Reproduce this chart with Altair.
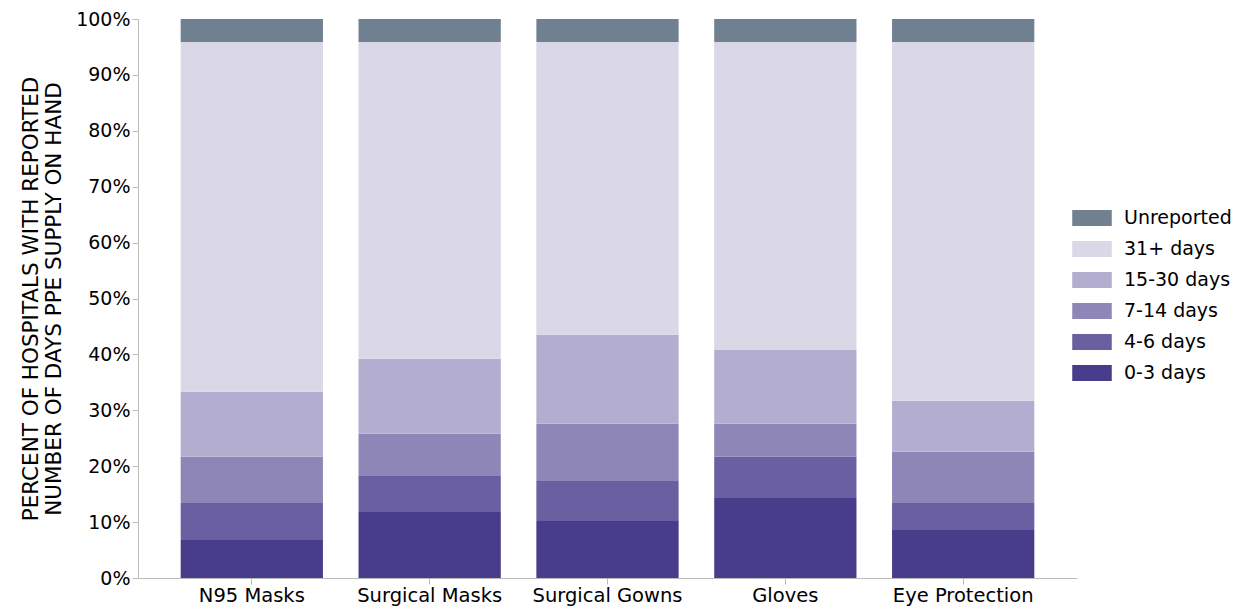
import altair as alt
import pandas as pd

items = ["N95 Masks", "Surgical Masks", "Surgical Gowns", "Gloves", "Eye Protection"]
levels = ["0-3 days", "4-6 days", "7-14 days", "15-30 days", "31+ days", "Unreported"]
# cumulative top of each band, percent
tops = {
    "N95 Masks":      [6.8, 13.4, 21.7, 33.3, 95.9, 100],
    "Surgical Masks": [11.8, 18.4, 25.8, 39.2, 95.9, 100],
    "Surgical Gowns": [10.2, 17.5, 27.6, 43.5, 95.9, 100],
    "Gloves":         [14.3, 21.7, 27.6, 40.8, 95.9, 100],
    "Eye Protection": [8.6, 13.4, 22.6, 31.7, 95.9, 100],
}
colors = ["#483d8b", "#6a5fa0", "#8f86b8", "#b3aed0", "#dad7e6", "#708090"]

rows = []
for it in items:
    prev = 0
    for i, lv in enumerate(levels):
        rows.append({"item": it, "level": lv, "lo": prev / 100, "hi": tops[it][i] / 100, "ord": i})
        prev = tops[it][i]
df = pd.DataFrame(rows)

chart = alt.Chart(df).mark_bar().encode(
    x=alt.X("item:N", sort=items, scale=alt.Scale(paddingInner=0.2, paddingOuter=0.24),
            axis=alt.Axis(title=None, labelAngle=0, labelFontSize=19.5, ticks=True, tickSize=6,
                          labelColor="black", domainColor="#bbbbbb", tickColor="#bbbbbb")),
    y=alt.Y("lo:Q", scale=alt.Scale(domain=[0, 1]),
            axis=alt.Axis(format="%", values=[i / 10 for i in range(11)], grid=False,
                          title=["PERCENT OF HOSPITALS WITH REPORTED", "NUMBER OF DAYS PPE SUPPLY ON HAND"],
                          titleFontSize=21.5, titleFontWeight="normal", titleColor="black",
                          labelFontSize=19, labelColor="black", domainColor="#bbbbbb",
                          tickColor="#bbbbbb", tickSize=6, titlePadding=10)),
    y2="hi:Q",
    color=alt.Color("level:N", sort=levels[::-1],
                    scale=alt.Scale(domain=levels[::-1], range=colors[::-1]),
                    legend=alt.Legend(title=None, orient="none", legendX=938, legendY=183,
                                      labelFontSize=19, labelColor="black",
                                      symbolType="M-1.25,-0.5h2.5v1h-2.5z", symbolSize=1000,
                                      symbolStrokeWidth=0, symbolOpacity=1, rowPadding=5,
                                      labelOffset=16)),
    order=alt.Order("ord:Q"),
).properties(width=939, height=559, padding={"top": 2, "left": 12, "right": 5, "bottom": 5})

chart = chart.configure(font="DejaVu Sans").configure_view(strokeOpacity=0)
chart.save("out.html", embed_options={"renderer": "svg", "actions": False})
